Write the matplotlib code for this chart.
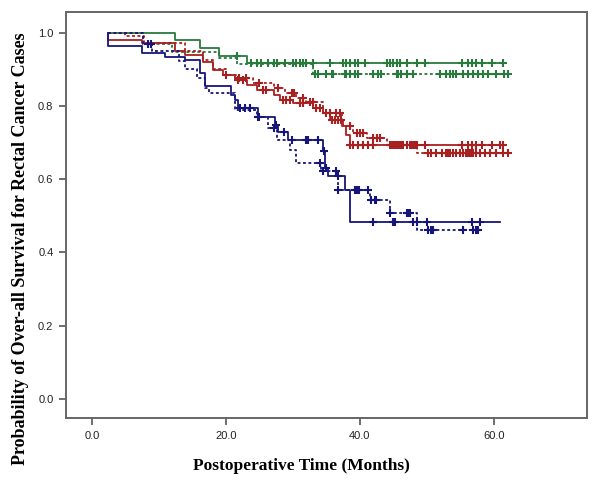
import numpy as np
import matplotlib
matplotlib.use("Agg")
import matplotlib.pyplot as plt

# step curves: times where survival changes, survival after the change, last follow-up
green_solid_t = [2.4, 12.4, 16.1, 18.9, 23.1]
green_solid_s = [1.0, 0.979, 0.957, 0.936, 0.916]
green_solid_end = 61.4
green_solid_cens = [21.6, 23.8, 24.6, 25.3, 26.3, 27.1, 27.6, 28.8, 30.0, 30.5, 31.0, 31.5,
                    32.0, 33.0, 35.5, 37.5, 38.0, 38.5, 39.3, 39.7, 40.7, 44.0, 44.5, 45.0,
                    45.5, 46.0, 47.0, 48.5, 49.7, 55.2, 56.2, 56.7, 57.4, 58.2, 59.7, 61.4]

green_dot_t = [2.4, 7.6, 12.0, 18.9, 21.6, 33.0]
green_dot_s = [1.0, 0.97, 0.948, 0.932, 0.914, 0.888]
green_dot_end = 62.1
green_dot_cens = [33.3, 33.8, 35.0, 35.8, 36.0, 37.8, 38.0, 38.5, 39.3, 39.7, 42.0, 42.7,
                  43.2, 45.5, 45.7, 46.2, 47.0, 48.0, 51.9, 52.9, 53.4, 53.9, 54.4, 55.4,
                  56.2, 56.9, 57.7, 58.4, 59.1, 60.4, 61.6, 62.1]

red_solid_t = [2.4, 7.4, 12.4, 13.9, 16.6, 18.1, 19.6, 21.3, 23.1, 24.6, 27.1, 28.1,
               30.0, 33.0, 34.5, 35.5, 37.5, 38.0, 38.5]
red_solid_s = [0.981, 0.972, 0.95, 0.94, 0.92, 0.899, 0.885, 0.872, 0.858, 0.844, 0.831,
               0.817, 0.808, 0.794, 0.78, 0.762, 0.744, 0.721, 0.694]
red_solid_end = 61.6
red_solid_cens = [20.0, 21.8, 22.5, 25.5, 26.0, 28.5, 29.0, 29.5, 31.0, 31.5, 33.5, 34.0,
                  35.8, 36.3, 36.8, 37.2, 38.6, 39.0, 39.7, 40.5, 41.2, 42.0, 44.5, 44.7,
                  45.0, 45.2, 45.5, 45.7, 46.0, 46.2, 46.5, 47.0, 47.5, 47.7, 48.0, 48.2,
                  48.5, 49.7, 55.2, 56.2, 56.7, 57.4, 58.2, 59.7, 60.9, 61.4]

red_dot_t = [2.4, 4.9, 7.7, 13.9, 16.6, 18.1, 20.0, 21.5, 24.0, 27.1, 28.8, 30.5, 32.0,
             34.5, 37.4, 39.0, 41.0, 44.0, 48.5]
red_dot_s = [1.0, 0.99, 0.973, 0.95, 0.926, 0.90, 0.885, 0.876, 0.862, 0.848, 0.836, 0.822,
             0.812, 0.781, 0.744, 0.726, 0.712, 0.694, 0.671]
red_dot_end = 62.4
red_dot_cens = [22.0, 23.0, 25.0, 27.8, 29.8, 30.2, 31.5, 32.5, 33.0, 35.0, 35.5, 36.5,
                37.0, 38.5, 39.5, 40.0, 40.5, 42.0, 42.5, 43.0, 50.2, 50.7, 51.4, 52.2,
                52.9, 53.2, 53.4, 53.9, 54.4, 54.9, 55.4, 55.9, 56.2, 56.4, 56.7, 56.9,
                57.4, 57.9, 58.7, 59.4, 60.4, 61.4, 62.1]

blue_solid_t = [2.4, 7.4, 10.9, 13.9, 16.1, 16.9, 20.8, 21.3, 21.8, 24.8, 27.3, 27.8,
                29.3, 34.5, 34.8, 35.2, 37.8, 38.5]
blue_solid_s = [0.963, 0.945, 0.933, 0.925, 0.89, 0.853, 0.831, 0.817, 0.794, 0.771,
                0.749, 0.73, 0.706, 0.676, 0.63, 0.608, 0.571, 0.484]
blue_solid_end = 61.0
blue_solid_cens = [22.1, 22.8, 23.6, 25.0, 27.5, 28.6, 29.8, 32.0, 32.3, 33.8, 34.6, 35.0,
                   36.8, 42.0, 45.0, 45.2, 48.0, 48.5, 50.0, 56.7, 57.9]

blue_dot_t = [2.4, 7.6, 9.0, 13.0, 13.9, 15.6, 16.9, 17.5, 21.3, 24.6, 26.3, 27.6, 29.6,
              30.5, 34.2, 36.8, 41.5, 44.5, 48.5]
blue_dot_s = [1.0, 0.97, 0.95, 0.922, 0.90, 0.877, 0.85, 0.835, 0.79, 0.771, 0.739, 0.708,
              0.68, 0.644, 0.621, 0.571, 0.544, 0.507, 0.46]
blue_dot_end = 57.9
blue_dot_cens = [8.4, 8.8, 24.8, 27.2, 34.0, 34.5, 36.5, 36.8, 39.3, 39.5, 39.8, 41.2,
                 41.7, 42.2, 42.4, 44.5, 47.0, 47.2, 47.5, 50.2, 50.7, 50.9, 55.4, 56.9,
                 57.4, 57.7]

green = "#2a7a3e"
red = "#a8201f"
navy = "#16167a"
dots = (0, (1.6, 1.4))

curves = [
    (green_solid_t, green_solid_s, green_solid_end, green_solid_cens, green, "-"),
    (green_dot_t, green_dot_s, green_dot_end, green_dot_cens, green, dots),
    (red_solid_t, red_solid_s, red_solid_end, red_solid_cens, red, "-"),
    (red_dot_t, red_dot_s, red_dot_end, red_dot_cens, red, dots),
    (blue_solid_t, blue_solid_s, blue_solid_end, blue_solid_cens, navy, "-"),
    (blue_dot_t, blue_dot_s, blue_dot_end, blue_dot_cens, navy, dots),
]

fig = plt.figure(figsize=(6, 4.8), dpi=100)
ax = fig.add_axes([0.11, 0.129, 0.868, 0.845])

for t, s, end, cens, col, ls in curves:
    # every curve begins at 1.0 at the first time, then steps down
    tt = [t[0]] + list(t) + [end]
    ss = [1.0] + list(s) + [s[-1]]
    ax.step(tt, ss, where="post", color=col, linestyle=ls, linewidth=1.3)
    ta = np.array(t)
    sa = np.array(s)
    idx = np.searchsorted(ta, np.array(cens), side="right") - 1
    idx = np.clip(idx, 0, len(sa) - 1)
    ax.plot(cens, sa[idx], linestyle="none", marker="+", color=col,
            markersize=6, markeredgewidth=1.5)

ax.set_xlim(-3.9, 73.9)
ax.set_ylim(-0.052, 1.055)
ax.set_xticks([0, 20, 40, 60])
ax.set_xticklabels(["0.0", "20.0", "40.0", "60.0"])
ax.set_yticks([0.0, 0.2, 0.4, 0.6, 0.8, 1.0])
ax.set_yticklabels(["0.0", "0.2", "0.4", "0.6", "0.8", "1.0"])
ax.tick_params(direction="out", length=5, width=1.2, color="#555555",
               labelsize=8, labelcolor="#222222", pad=4)
for lab in ax.get_xticklabels() + ax.get_yticklabels():
    lab.set_family("Liberation Sans")
for sp in ax.spines.values():
    sp.set_color("#666666")
    sp.set_linewidth(1.4)

ax.set_xlabel("Postoperative Time (Months)", family="Liberation Serif",
              fontweight="bold", fontsize=12.5, va="center")
ax.set_ylabel("Probability of Over-all Survival for Rectal Cancer Cases",
              family="Liberation Serif", fontweight="bold", fontsize=13, va="center")
ax.xaxis.set_label_coords(0.453, -0.118)
ax.yaxis.set_label_coords(-0.088, 0.417)

fig.savefig("out.png", dpi=100)
